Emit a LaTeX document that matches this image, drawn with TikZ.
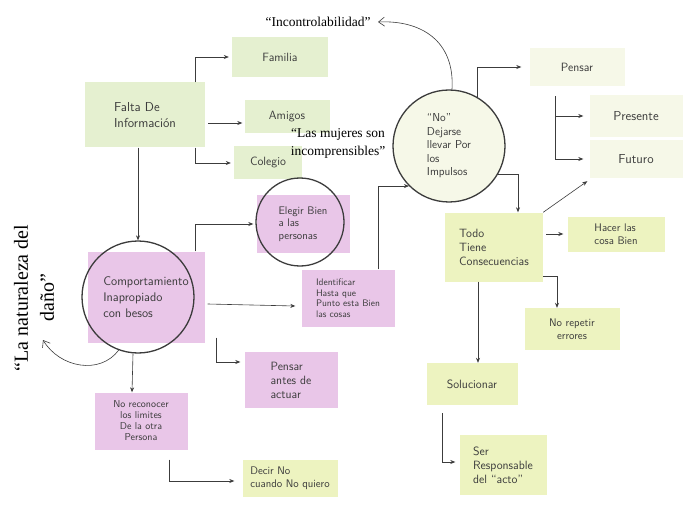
\documentclass[tikz,border=0pt]{standalone}
\usepackage{fontspec}
\setmainfont{Liberation Serif}
\usepackage{tikz}
\usetikzlibrary{shapes, arrows.meta, positioning, fit}

\definecolor{notegreen}{RGB}{229,240,208}
\definecolor{notepink}{RGB}{233,198,232}
\definecolor{noteyellow}{RGB}{237,243,192}
\definecolor{notepale}{RGB}{246,248,232}
\definecolor{ink}{RGB}{60,60,60}

\begin{document}
\begin{tikzpicture}[
    x=1pt, y=-1pt,
    note/.style={rectangle, inner sep=3pt, align=left, text=ink, font=\sffamily\fontsize{12}{14}\selectfont},
    ring/.style={circle, draw=ink, line width=1.3pt, inner sep=0pt},
    quote/.style={font=\fontsize{13.5}{18}\selectfont, align=center},
    arrow/.style={-{Stealth[length=5pt,width=4pt]}, semithick, ink},
    barb/.style={-{Straight Barb[length=6pt,width=9pt]}, semithick, ink}
]
\useasboundingbox[fill=white] (0,0) rectangle (683,508);

% green notes
\node[note, fill=notegreen, minimum width=120, minimum height=65, font=\sffamily\fontsize{13}{16}\selectfont] (falta) at (145,115) {Falta De\\Información};
\node[note, fill=notegreen, minimum width=96, minimum height=40] (familia) at (280,57) {Familia};
\node[note, fill=notegreen, minimum width=85, minimum height=33] (amigos) at (287,117) {Amigos};
\node[note, fill=notegreen, minimum width=68, minimum height=33] (colegio) at (268,163) {Colegio};

% pink notes
\node[note, fill=notepink, minimum width=117, minimum height=91, font=\sffamily\fontsize{12.5}{16}\selectfont] (comp) at (146,297) {Comportamiento\\Inapropiado\\con besos};
\node[note, fill=notepink, minimum width=93, minimum height=58, font=\sffamily\fontsize{11}{12.5}\selectfont] (elegir) at (303,224) {Elegir Bien\\a las\\personas};
\node[note, fill=notepink, minimum width=93, minimum height=57, font=\sffamily\fontsize{9.5}{10.5}\selectfont] (ident) at (348,298) {Identificar\\Hasta que\\Punto esta Bien\\las cosas};
\node[note, fill=notepink, minimum width=93, minimum height=56] (pensarA) at (291,380) {Pensar\\antes de\\actuar};
\node[note, fill=notepink, minimum width=93, minimum height=57, align=center, font=\sffamily\fontsize{10}{11}\selectfont] (noreco) at (141,421) {No reconocer\\los limites\\De la otra\\Persona};

% yellow notes
\node[note, fill=noteyellow, minimum width=95, minimum height=37, font=\sffamily\fontsize{11}{12.5}\selectfont] (decir) at (290,478) {Decir No\\cuando No quiero};
\node[note, fill=noteyellow, minimum width=98, minimum height=69] (todo) at (494,247) {Todo\\Tiene\\Consecuencias};
\node[note, fill=noteyellow, minimum width=97, minimum height=35, font=\sffamily\fontsize{11}{12.5}\selectfont] (hacer) at (616,234) {Hacer las\\cosa Bien};
\node[note, fill=noteyellow, minimum width=95, minimum height=42, align=center, font=\sffamily\fontsize{11}{13}\selectfont] (norep) at (572,329) {No repetir\\errores};
\node[note, fill=noteyellow, minimum width=91, minimum height=42] (soluc) at (472,384) {Solucionar};
\node[note, fill=noteyellow, minimum width=87, minimum height=60] (ser) at (503,465) {Ser\\Responsable\\del ``acto''};

% pale notes
\node[note, fill=notepale, minimum width=95, minimum height=38] (pensar) at (577,67) {Pensar};
\node[note, fill=notepale, minimum width=93, minimum height=42, font=\sffamily\fontsize{13}{15}\selectfont] (presente) at (636,116) {Presente};
\node[note, fill=notepale, minimum width=93, minimum height=38, font=\sffamily\fontsize{13}{15}\selectfont] (futuro) at (636,159) {Futuro};

% circles
\node[ring, minimum size=112] (compc) at (138,297) {};
\node[ring, minimum size=88] (elegc) at (300,222) {};
\node[ring, fill=notepale, minimum size=112, align=left, text=ink, font=\sffamily\fontsize{11.5}{13.5}\selectfont] (dejc) at (449,146) {``No''\\Dejarse\\llevar Por\\los\\Impulsos};

% quotes
\node[quote] (incontrol) at (318,22) {``Incontrolabilidad''};
\node[quote] (mujeres) at (338,143) {``Las mujeres son\\incomprensibles''};
\node[quote, font=\fontsize{20}{26}\selectfont, rotate=90] (naturaleza) at (34,298) {``La naturaleza del\\daño''};
\coordinate (natarrow) at (43,340);

% connectors
\draw[arrow] ([xshift=50]falta.north) |- ([xshift=-3]familia.west);
\draw[arrow] ([xshift=3,yshift=-8]falta.east) -- ([xshift=-2,yshift=-6]amigos.west);
\draw[arrow] ([xshift=50]falta.south) |- ([xshift=-3]colegio.west);
\draw[arrow] ([xshift=-7]falta.south) -- (compc.north);
\draw[arrow] ([xshift=49]comp.north) |- ([xshift=-3]elegir.west);
\draw[arrow] ([xshift=3,yshift=-7]comp.east) -- ([xshift=-6,yshift=-8]ident.west);
\draw[arrow] ([xshift=30]ident.north) |- (dejc.south west);
\draw[arrow] ([xshift=12,yshift=5]comp.south east) |- ([xshift=-4,yshift=18]pensarA.west);
\draw[arrow] ([xshift=-5]compc.south) -- ([xshift=-9]noreco.north);
\draw[arrow] ([xshift=28,yshift=-10]noreco.south) |- ([xshift=-8,yshift=-3]decir.west);
\draw[barb] (compc.250) .. controls (100,375) and (60,368) .. (natarrow);
\draw[barb] ([xshift=3]dejc.north) .. controls (455,40) and (420,20) .. ([xshift=4]incontrol.east);
\draw[arrow] (dejc.60) |- ([xshift=-8]pensar.west);
\draw[arrow] ([xshift=-22,yshift=-10]pensar.south) |- ([xshift=-6]presente.west);
\draw[arrow] ([xshift=-22,yshift=-10]pensar.south) |- ([xshift=-6]futuro.west);
\draw[arrow] (dejc.-30) -| ([xshift=24]todo.north);
\draw[arrow] (todo.north east) -- ([xshift=-2,yshift=-3]futuro.south west);
\draw[arrow] ([xshift=3]todo.east |- hacer.west) -- ([xshift=-4]hacer.west);
\draw[arrow] ([yshift=5]todo.south east) -| ([xshift=-15]norep.north);
\draw[arrow] ([xshift=-16]todo.south) -- ([xshift=6]soluc.north);
\draw[arrow] ([xshift=-30,yshift=-8]soluc.south) |- ([xshift=-4,yshift=3]ser.west);
\end{tikzpicture}
\end{document}
